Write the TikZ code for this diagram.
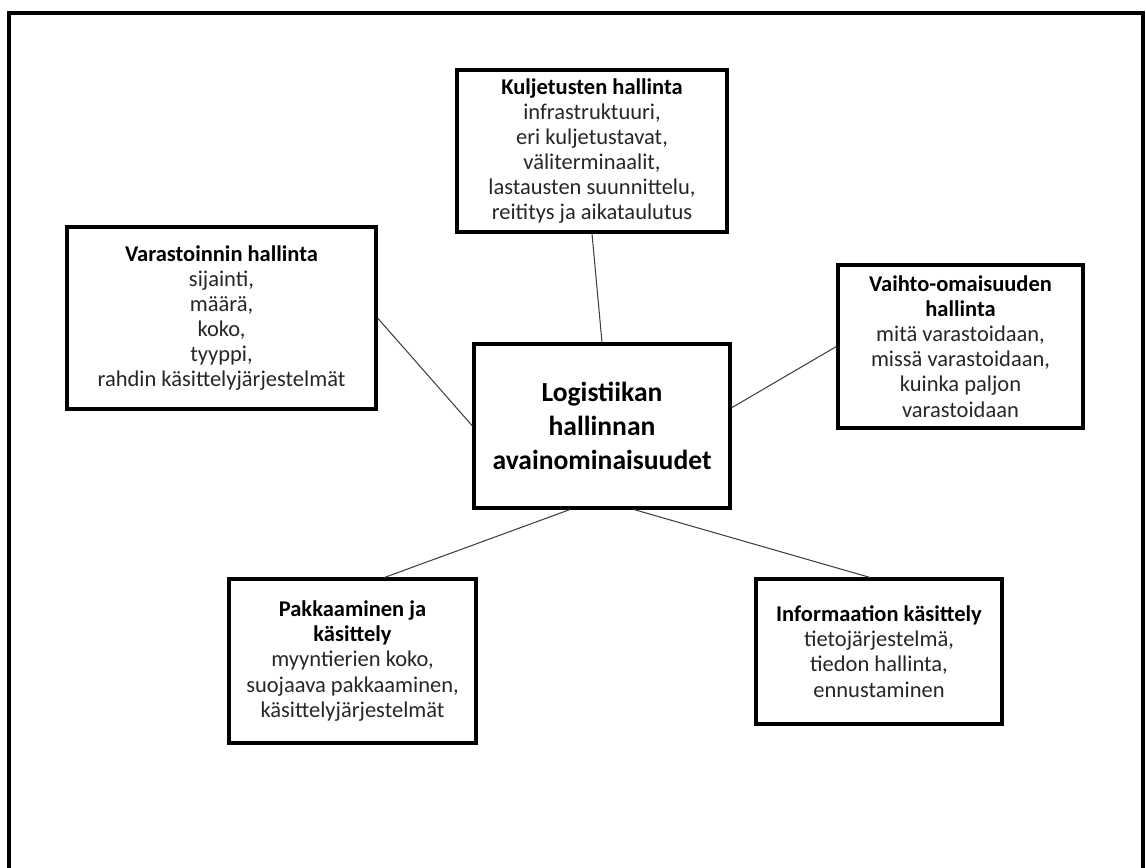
\documentclass[tikz,border=0pt]{standalone}
\usepackage{fontspec}
\setmainfont{Carlito}
\usepackage{xcolor}
\definecolor{linkgray}{HTML}{404040}
\definecolor{textgray}{HTML}{262626}

\begin{document}
\begin{tikzpicture}[x=0.02cm, y=-0.02cm,
  box/.style={draw, line width=1.8pt, align=center, inner sep=2pt,
              font=\fontsize{12.8}{14.3}\selectfont, text=textgray},
  hub/.style={box, font=\fontsize{15.7}{19.4}\selectfont\bfseries, text=black},
  link/.style={draw=linkgray, line width=0.6pt},
  frame/.style={line width=1.9pt, black}
]
  \useasboundingbox (0,0) rectangle (1146,868);

  % Frame (open at the bottom)
  \draw[frame] (9,868) -- (9,13) -- (1143,13) -- (1143,868);

  % Centre
  \node[hub, minimum width=5.12cm, minimum height=3.28cm] (centre) at (602,426)
    {Logistiikan\\hallinnan\\avainominaisuudet};

  % Key areas
  \node[box, minimum width=5.4cm, minimum height=3.24cm] (kulj) at (592,151)
    {\textbf{\color{black}Kuljetusten hallinta}\\infrastruktuuri,\\eri kuljetustavat,\\
     väliterminaalit,\\lastausten suunnittelu,\\reititys ja aikataulutus};
  \node[box, minimum width=6.18cm, minimum height=3.64cm] (varast) at (221.5,318)
    {\textbf{\color{black}Varastoinnin hallinta}\\sijainti,\\määrä,\\koko,\\tyyppi,\\
     rahdin käsittelyjärjestelmät};
  \node[box, minimum width=4.9cm, minimum height=3.26cm] (vaihto) at (960.5,346.5)
    {\textbf{\color{black}Vaihto-omaisuuden}\\\textbf{\color{black}hallinta}\\
     mitä varastoidaan,\\missä varastoidaan,\\kuinka paljon\\varastoidaan};
  \node[box, minimum width=4.94cm, minimum height=3.28cm] (pakk) at (352.5,661)
    {\textbf{\color{black}Pakkaaminen ja}\\\textbf{\color{black}käsittely}\\
     myyntierien koko,\\suojaava pakkaaminen,\\käsittelyjärjestelmät};
  \node[box, minimum width=4.92cm, minimum height=2.9cm] (info) at (879,651.5)
    {\textbf{\color{black}Informaation käsittely}\\tietojärjestelmä,\\
     tiedon hallinta,\\ennustaminen};

  % Links
  \draw[link] (kulj.south) -- (centre.north);
  \draw[link] (varast.east) -- (centre.west);
  \draw[link] (vaihto.west) -- (centre.8);
  \draw[link] (centre.249) -- (pakk.69);
  \draw[link] (centre.291) -- (info.97);
\end{tikzpicture}
\end{document}
